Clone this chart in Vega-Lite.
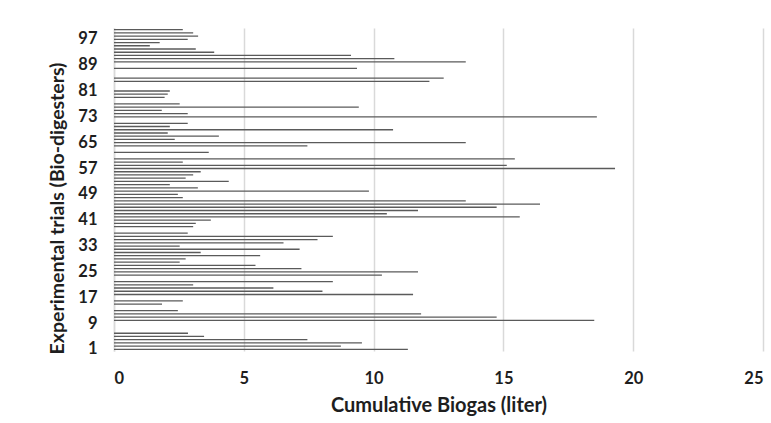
{
  "$schema": "https://vega.github.io/schema/vega-lite/v6.json",
  "width": 649,
  "height": 323,
  "autosize": {"type": "none"},
  "padding": {"left": 114, "top": 28, "right": 8, "bottom": 72},
  "background": "white",
  "config": {
    "view": {"stroke": null},
    "font": "Lato",
    "axis": {"labelFont": "Lato", "titleFont": "Lato", "labelColor": "#1e1e1e", "titleColor": "#1e1e1e"}
  },
  "data": {
    "values": [
      {"trial": 1, "biogas": 11.32}, {"trial": 2, "biogas": 8.74}, {"trial": 3, "biogas": 9.55}, {"trial": 4, "biogas": 7.45},
      {"trial": 5, "biogas": 3.47}, {"trial": 6, "biogas": 2.85}, {"trial": 7, "biogas": 0}, {"trial": 8, "biogas": 0},
      {"trial": 9, "biogas": 0}, {"trial": 10, "biogas": 18.5}, {"trial": 11, "biogas": 14.74}, {"trial": 12, "biogas": 11.83},
      {"trial": 13, "biogas": 2.46}, {"trial": 14, "biogas": 0}, {"trial": 15, "biogas": 1.85}, {"trial": 16, "biogas": 2.65},
      {"trial": 17, "biogas": 0}, {"trial": 18, "biogas": 11.52}, {"trial": 19, "biogas": 8.03}, {"trial": 20, "biogas": 6.14},
      {"trial": 21, "biogas": 3.05}, {"trial": 22, "biogas": 8.43}, {"trial": 23, "biogas": 0}, {"trial": 24, "biogas": 10.32},
      {"trial": 25, "biogas": 11.71}, {"trial": 26, "biogas": 7.22}, {"trial": 27, "biogas": 5.45}, {"trial": 28, "biogas": 2.53},
      {"trial": 29, "biogas": 2.76}, {"trial": 30, "biogas": 5.63}, {"trial": 31, "biogas": 3.34}, {"trial": 32, "biogas": 7.15},
      {"trial": 33, "biogas": 2.53}, {"trial": 34, "biogas": 6.53}, {"trial": 35, "biogas": 7.84}, {"trial": 36, "biogas": 8.43},
      {"trial": 37, "biogas": 2.84}, {"trial": 38, "biogas": 0}, {"trial": 39, "biogas": 3.05}, {"trial": 40, "biogas": 3.15},
      {"trial": 41, "biogas": 3.73}, {"trial": 42, "biogas": 15.63}, {"trial": 43, "biogas": 10.51}, {"trial": 44, "biogas": 11.71},
      {"trial": 45, "biogas": 14.74}, {"trial": 46, "biogas": 16.41}, {"trial": 47, "biogas": 13.55}, {"trial": 48, "biogas": 2.65},
      {"trial": 49, "biogas": 2.46}, {"trial": 50, "biogas": 9.82}, {"trial": 51, "biogas": 3.23}, {"trial": 52, "biogas": 2.15},
      {"trial": 53, "biogas": 4.42}, {"trial": 54, "biogas": 2.76}, {"trial": 55, "biogas": 3.05}, {"trial": 56, "biogas": 3.34},
      {"trial": 57, "biogas": 19.3}, {"trial": 58, "biogas": 15.13}, {"trial": 59, "biogas": 2.65}, {"trial": 60, "biogas": 15.44},
      {"trial": 61, "biogas": 0}, {"trial": 62, "biogas": 3.65}, {"trial": 63, "biogas": 0}, {"trial": 64, "biogas": 7.45},
      {"trial": 65, "biogas": 13.55}, {"trial": 66, "biogas": 2.34}, {"trial": 67, "biogas": 4.04}, {"trial": 68, "biogas": 2.07},
      {"trial": 69, "biogas": 10.75}, {"trial": 70, "biogas": 2.15}, {"trial": 71, "biogas": 2.84}, {"trial": 72, "biogas": 0},
      {"trial": 73, "biogas": 18.6}, {"trial": 74, "biogas": 2.84}, {"trial": 75, "biogas": 1.84}, {"trial": 76, "biogas": 9.43},
      {"trial": 77, "biogas": 2.53}, {"trial": 78, "biogas": 0}, {"trial": 79, "biogas": 1.95}, {"trial": 80, "biogas": 2.07},
      {"trial": 81, "biogas": 2.15}, {"trial": 82, "biogas": 0}, {"trial": 83, "biogas": 0}, {"trial": 84, "biogas": 12.15},
      {"trial": 85, "biogas": 12.7}, {"trial": 86, "biogas": 0}, {"trial": 87, "biogas": 0}, {"trial": 88, "biogas": 9.36},
      {"trial": 89, "biogas": 0}, {"trial": 90, "biogas": 13.55}, {"trial": 91, "biogas": 10.8}, {"trial": 92, "biogas": 9.13},
      {"trial": 93, "biogas": 3.86}, {"trial": 94, "biogas": 3.15}, {"trial": 95, "biogas": 1.38}, {"trial": 96, "biogas": 1.76},
      {"trial": 97, "biogas": 2.84}, {"trial": 98, "biogas": 3.24}, {"trial": 99, "biogas": 3.05}, {"trial": 100, "biogas": 2.65}
    ]
  },
  "mark": {"type": "bar", "size": 1.3, "color": "#5a5a5a"},
  "encoding": {
    "y": {
      "field": "trial",
      "type": "ordinal",
      "sort": "descending",
      "scale": {"paddingInner": 0, "paddingOuter": 0},
      "axis": {
        "title": "Experimental trials (Bio-digesters)",
        "titleFontSize": 19.5,
        "titleFontWeight": "bold",
        "titlePadding": 10,
        "titleY": 180,
        "labelFontSize": 16.5,
        "labelFontWeight": "bold",
        "labelExpr": "(datum.value - 1) % 8 == 0 ? datum.label : ''",
        "labelPadding": 17,
        "ticks": false,
        "tickSize": 0,
        "domain": true,
        "domainColor": "#d9d9d9",
        "domainWidth": 1.5,
        "grid": false
      }
    },
    "x": {
      "field": "biogas",
      "type": "quantitative",
      "scale": {"domain": [0, 25], "nice": false},
      "axis": {
        "title": "Cumulative Biogas (liter)",
        "titleFontSize": 20,
        "titleFontWeight": "bold",
        "titlePadding": 9,
        "labelFontSize": 16.5,
        "labelFontWeight": "bold",
        "labelPadding": 19,
        "values": [0, 5, 10, 15, 20, 25],
        "ticks": false,
        "tickSize": 0,
        "domain": false,
        "grid": true,
        "gridColor": "#d9d9d9",
        "gridWidth": 1.5
      }
    }
  }
}
